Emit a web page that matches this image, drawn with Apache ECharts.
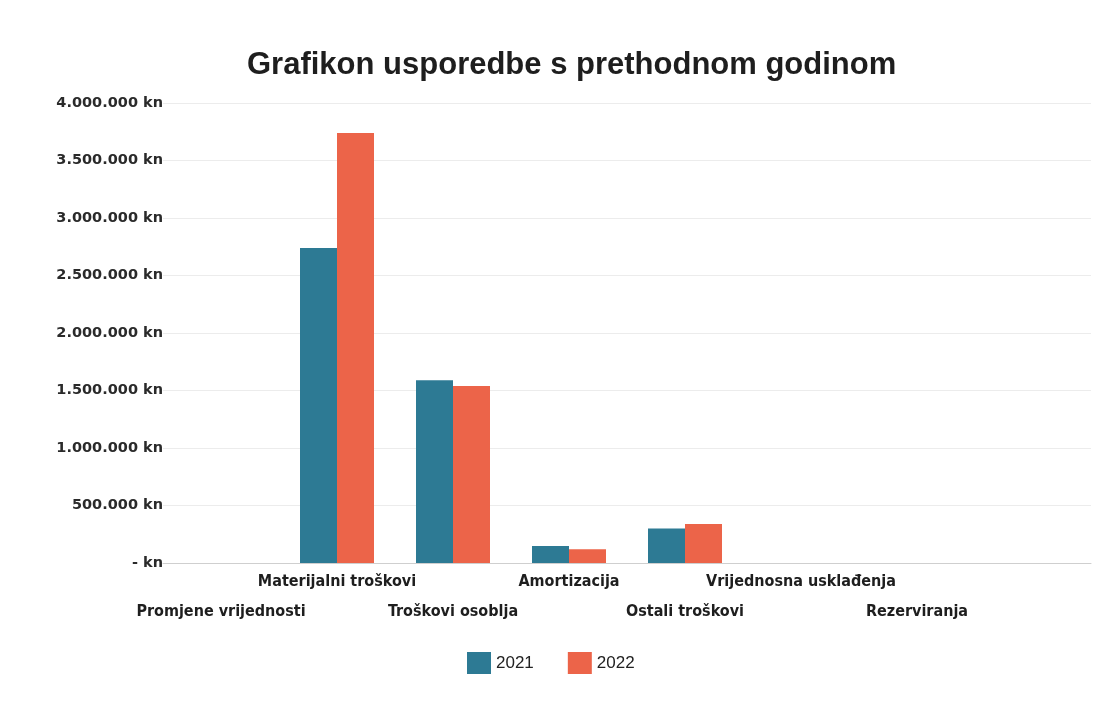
<!DOCTYPE html>
<html>
<head>
<meta charset="utf-8">
<title>Grafikon usporedbe s prethodnom godinom</title>
<script src="https://cdn.jsdelivr.net/npm/echarts@6/dist/echarts.min.js"></script>
<style>
  html, body { margin: 0; padding: 0; background: #fff; }
  #chart { width: 1118px; height: 701px; }
</style>
</head>
<body>
<div id="chart"></div>
<script>
// podaci očitani sa slike
const categories = [
  'Promjene vrijednosti',
  'Materijalni troškovi',
  'Troškovi osoblja',
  'Amortizacija',
  'Ostali troškovi',
  'Vrijednosna usklađenja',
  'Rezerviranja',
  ''
];
const values2021 = [0, 2740000, 1590000, 148000, 300000, 0, 0, 0];
const values2022 = [0, 3740000, 1540000, 120000, 340000, 0, 0, 0];
const yTicks = [0, 500000, 1000000, 1500000, 2000000, 2500000, 3000000, 3500000, 4000000];

function fmtKn(v) {
  if (v === 0) return '- kn';
  return String(v).replace(/\B(?=(\d{3})+(?!\d))/g, '.') + ' kn';
}

const chart = echarts.init(document.getElementById('chart'));

const option = {
  backgroundColor: '#ffffff',
  animation: false,
  title: {
    text: 'Grafikon usporedbe s prethodnom godinom',
    left: 242,
    top: 45,
    textStyle: {
      fontFamily: 'Liberation Sans',
      fontSize: 31,
      fontWeight: 'bold',
      color: '#1e1e1e'
    }
  },
  legend: {
    data: ['2021', '2022'],
    bottom: 22,
    left: 462,
    itemWidth: 24,
    itemHeight: 22,
    itemGap: 34,
    icon: 'rect',
    textStyle: {
      fontFamily: 'Liberation Sans',
      fontSize: 17,
      color: '#222'
    }
  },
  grid: {
    left: 163,
    right: 27,
    top: 103,
    bottom: 138,
    containLabel: false
  },
  xAxis: {
    type: 'category',
    data: categories,
    axisTick: { show: false },
    axisLine: { lineStyle: { color: '#cfcfcf', width: 1 } },
    axisLabel: {
      interval: 0,
      margin: 4,
      fontFamily: 'DejaVu Sans Condensed',
      fontWeight: 'bold',
      fontSize: 16,
      lineHeight: 30,
      color: '#1e1e1e',
      formatter: function (value, idx) {
        return (idx % 2 === 0 ? '\n' : '') + value;
      }
    }
  },
  yAxis: {
    type: 'value',
    min: yTicks[0],
    max: yTicks[yTicks.length - 1],
    interval: 500000,
    axisLine: { show: false },
    axisTick: { show: false },
    splitLine: { lineStyle: { color: '#ececec', width: 1 } },
    axisLabel: {
      margin: 0,
      fontFamily: 'DejaVu Sans',
      fontWeight: 'bold',
      fontSize: 14.5,
      color: '#2a2a2a',
      formatter: fmtKn
    }
  },
  series: [
    {
      name: '2021',
      type: 'bar',
      data: values2021,
      barWidth: 37,
      barGap: '0%',
      itemStyle: { color: '#2d7a94' }
    },
    {
      name: '2022',
      type: 'bar',
      data: values2022,
      barWidth: 37,
      itemStyle: { color: '#ec6449' }
    }
  ]
};

chart.setOption(option);
</script>
</body>
</html>
